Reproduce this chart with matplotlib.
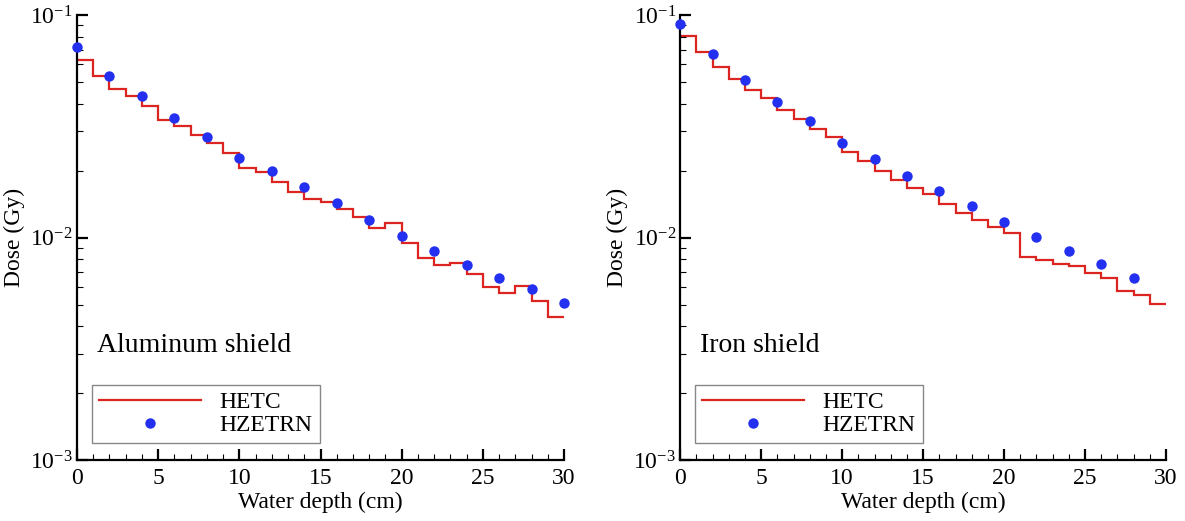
import numpy as np
import matplotlib
matplotlib.use('Agg')
import matplotlib.pyplot as plt
from matplotlib import rcParams
from matplotlib.ticker import MultipleLocator, LogLocator, NullFormatter

rcParams['font.family'] = 'Liberation Serif'
rcParams['mathtext.fontset'] = 'stix'

# depth bins (cm)
edges = np.arange(0, 31)
depth_al = np.arange(0, 31, 2)
depth_fe = np.arange(0, 29, 2)

# Aluminum shield
hetc_al = [0.0626, 0.0534, 0.0465, 0.0432, 0.0389, 0.0339, 0.0318, 0.0289, 0.0266, 0.0240,
           0.0206, 0.0198, 0.0178, 0.0160, 0.0149, 0.0145, 0.0135, 0.01236, 0.01107, 0.0116,
           0.0095, 0.0081, 0.00752, 0.00767, 0.00685, 0.00601, 0.00561, 0.00603, 0.0052, 0.00438]
hzetrn_al = [0.0716, 0.0534, 0.0431, 0.0344, 0.0282, 0.0228, 0.0200, 0.0168, 0.0143, 0.0120,
             0.0102, 0.00867, 0.00755, 0.00658, 0.00587, 0.00509]

# Iron shield
hetc_fe = [0.0807, 0.0684, 0.0582, 0.0515, 0.0460, 0.0425, 0.0374, 0.0341, 0.0307, 0.0284,
           0.0243, 0.0221, 0.0200, 0.0182, 0.0167, 0.0157, 0.0142, 0.0129, 0.0120, 0.0111,
           0.01047, 0.00817, 0.00795, 0.00762, 0.00743, 0.00693, 0.00661, 0.00575, 0.00550, 0.00501]
hzetrn_fe = [0.0908, 0.0668, 0.0510, 0.0407, 0.0333, 0.0265, 0.0225, 0.0189, 0.0162, 0.0139,
             0.0118, 0.01007, 0.00871, 0.00759, 0.00661]

fig = plt.figure(figsize=(11.85, 5.21), dpi=100)
ax1 = fig.add_axes([0.065, 0.117, 0.411, 0.854])
ax2 = fig.add_axes([0.574, 0.117, 0.410, 0.854])


def draw_panel(ax, hetc, depth, hzetrn, name):
    ax.stairs(hetc, edges, baseline=None, color='#dc2420', lw=1.6, label='HETC')
    ax.plot(depth, hzetrn, 'o', color='#2430f0', ms=7.5, mec='none', label='HZETRN',
            clip_on=False, zorder=5)
    ax.set_yscale('log')
    ax.set_xlim(0, 30)
    ax.set_ylim(1e-3, 1e-1)
    ax.spines['top'].set_visible(False)
    ax.spines['right'].set_visible(False)
    ax.spines['left'].set_linewidth(1.6)
    ax.spines['bottom'].set_linewidth(1.6)
    ax.xaxis.set_major_locator(MultipleLocator(5))
    ax.xaxis.set_minor_locator(MultipleLocator(1))
    ax.yaxis.set_major_locator(LogLocator(base=10))
    ax.yaxis.set_minor_locator(LogLocator(base=10, subs=np.arange(2, 10)))
    ax.yaxis.set_minor_formatter(NullFormatter())
    ax.tick_params(which='major', direction='in', length=8, width=1.6, labelsize=17)
    ax.tick_params(which='minor', direction='in', length=4, width=0.8)
    ax.tick_params(axis='x', pad=6)
    ax.tick_params(axis='y', pad=3)
    ax.set_xlabel('Water depth (cm)', fontsize=17, labelpad=2)
    ax.set_ylabel('Dose (Gy)', fontsize=17, labelpad=4)
    ax.text(0.04, 0.258, name, transform=ax.transAxes, fontsize=20, va='center')
    leg = ax.legend(loc='lower left', bbox_to_anchor=(0.031, 0.038), borderaxespad=0,
                    fontsize=17, handlelength=4.3, fancybox=False, framealpha=1,
                    borderpad=0.3, labelspacing=0.05, handletextpad=0.8)
    leg.get_frame().set_edgecolor('#888888')
    leg.get_frame().set_linewidth(1.0)


draw_panel(ax1, hetc_al, depth_al, hzetrn_al, 'Aluminum shield')
draw_panel(ax2, hetc_fe, depth_fe, hzetrn_fe, 'Iron shield')

fig.savefig('out.png', dpi=100)
